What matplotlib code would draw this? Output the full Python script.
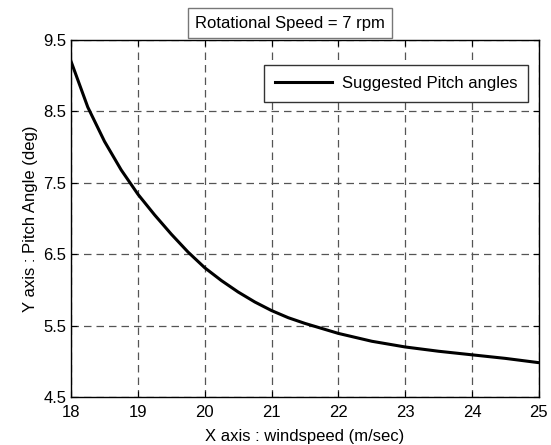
import matplotlib
matplotlib.use('Agg')
import matplotlib.pyplot as plt

plt.rcParams['font.family'] = ['Liberation Sans', 'DejaVu Sans']

# pitch angle readings (deg) vs windspeed (m/s)
windspeed = [18.0, 18.25, 18.5, 18.75, 19.0, 19.25, 19.5, 19.75, 20.0, 20.25,
             20.5, 20.75, 21.0, 21.25, 21.5, 21.75, 22.0, 22.5, 23.0, 23.5,
             24.0, 24.5, 25.0]
pitch = [9.20, 8.56, 8.08, 7.68, 7.34, 7.05, 6.78, 6.53, 6.31, 6.13,
         5.97, 5.83, 5.71, 5.61, 5.53, 5.46, 5.39, 5.28, 5.20, 5.14,
         5.09, 5.04, 4.98]
xticks = [18, 19, 20, 21, 22, 23, 24, 25]
yticks = [4.5, 5.5, 6.5, 7.5, 8.5, 9.5]

fig = plt.figure(figsize=(5.51, 4.45), dpi=100)
ax = fig.add_axes([0.129, 0.108, 0.849, 0.802])

ax.plot(windspeed, pitch, color='black', linewidth=2.2, label='Suggested Pitch angles')

ax.set_xlim(18, 25)
ax.set_ylim(4.5, 9.5)
ax.set_xticks(xticks)
ax.set_yticks(yticks)
ax.set_yticklabels(['4.5', '5.5', '6.5', '7.5', '8.5', '9.5'])
ax.tick_params(direction='in', top=True, right=True, labelsize=12, length=4)
ax.tick_params(axis='x', pad=6)
ax.grid(True, color='#555555', linestyle=(0, (6, 4)), linewidth=0.9)
for s in ax.spines.values():
    s.set_linewidth(1.0)

ax.set_xlabel('X axis : windspeed (m/sec)', fontsize=12, labelpad=6)
ax.set_ylabel('Y axis : Pitch Angle (deg)', fontsize=12, labelpad=4)
ax.set_title('Rotational Speed = 7 rpm', fontsize=12, x=0.468, pad=9,
             bbox=dict(facecolor='white', edgecolor='#777777', boxstyle='square,pad=0.45'))

leg = ax.legend(loc='upper right', fontsize=12, handlelength=3.4, fancybox=False,
                framealpha=1, borderpad=0.65, handletextpad=0.6, borderaxespad=0,
                bbox_to_anchor=(528 / 551, 1 - 65 / 445),
                bbox_transform=fig.transFigure)
leg.get_frame().set_edgecolor('#333333')

fig.savefig('out.png', dpi=100)
